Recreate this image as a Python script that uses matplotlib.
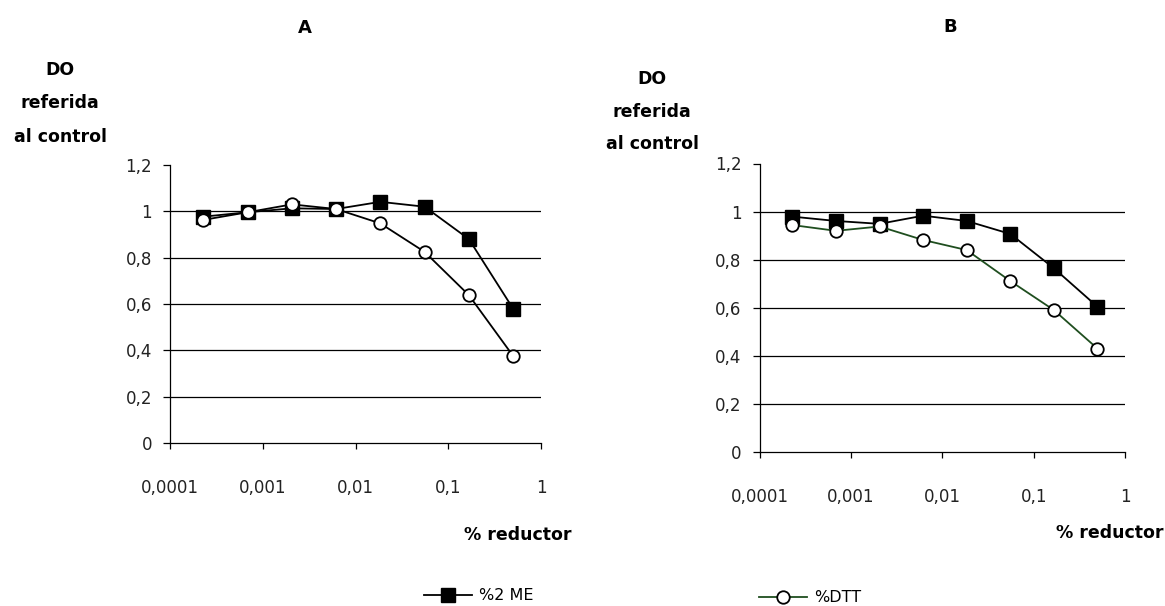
#!/usr/bin/env python

import matplotlib
matplotlib.use('Agg')
import matplotlib.pyplot as plt

# Reducer concentration (%), three-fold dilutions
conc = [0.000229, 0.000686, 0.00206, 0.00617, 0.0185, 0.0556, 0.167, 0.5]

# Panel A: OD relative to control
a_me = [0.977, 0.996, 1.013, 1.010, 1.041, 1.020, 0.880, 0.580]
a_dtt = [0.963, 0.996, 1.030, 1.010, 0.948, 0.825, 0.638, 0.376]

# Panel B: OD relative to control
b_me = [0.979, 0.961, 0.949, 0.983, 0.961, 0.907, 0.764, 0.604]
b_dtt = [0.944, 0.920, 0.938, 0.882, 0.840, 0.711, 0.590, 0.430]

y_ticks = [0, 0.2, 0.4, 0.6, 0.8, 1.0, 1.2]
y_labels = ['0', '0,2', '0,4', '0,6', '0,8', '1', '1,2']
x_ticks = [0.0001, 0.001, 0.01, 0.1, 1]
x_labels = ['0,0001', '0,001', '0,01', '0,1', '1']

green = '#1f4e1f'

plt.rcParams['font.family'] = ['DejaVu Sans']

W, H = 1165, 606
fig = plt.figure(figsize=(W / 100, H / 100), dpi=100)


def px(x, y):
    # pixel position -> figure fraction
    return x / W, 1 - y / H


def panel(rect, me, dtt, dtt_color):
    ax = fig.add_axes(rect)
    ax.set_xscale('log')
    ax.set_xlim(1e-4, 1)
    ax.set_ylim(0, 1.2)
    for g in y_ticks[1:-1]:
        ax.axhline(g, color='black', lw=0.9, zorder=1)
    l1, = ax.plot(conc, me, color='black', lw=1.3, marker='s', ms=10,
                  mfc='black', mec='black', zorder=3, clip_on=False)
    l2, = ax.plot(conc, dtt, color=dtt_color, lw=1.3, marker='o', ms=9,
                  mfc='white', mec='black', mew=1.3, zorder=4, clip_on=False)
    ax.set_yticks(y_ticks)
    ax.set_yticklabels(y_labels)
    ax.set_xticks(x_ticks)
    ax.set_xticklabels(x_labels)
    ax.minorticks_off()
    ax.tick_params(axis='y', length=5, width=0.9, pad=8, labelsize=12,
                   labelcolor='#222222')
    ax.tick_params(axis='x', length=4, width=0.9, pad=22, labelsize=12,
                   labelcolor='#222222')
    for s in ['top', 'right']:
        ax.spines[s].set_visible(False)
    for s in ['left', 'bottom']:
        ax.spines[s].set_linewidth(0.9)
    return ax, l1, l2


axA, meA, dttA = panel([170 / W, 1 - 443 / H, 371 / W, 278 / H],
                       a_me, a_dtt, 'black')
axB, meB, dttB = panel([759.5 / W, 1 - 452 / H, 365.5 / W, 288.5 / H],
                       b_me, b_dtt, green)

# panel titles
fig.text(*px(305, 28), 'A', ha='center', va='center', fontsize=13,
         fontweight='bold')
fig.text(*px(950, 27), 'B', ha='center', va='center', fontsize=13,
         fontweight='bold')

# y-axis labels, one line each
for cx, ys in [(60, [70, 103, 137]), (652, [79, 112, 144])]:
    for yy, t in zip(ys, ['DO', 'referida', 'al control']):
        fig.text(*px(cx, yy), t, ha='center', va='center', fontsize=12.5,
                 fontweight='bold')

# x-axis labels
fig.text(*px(572, 535), '% reductor', ha='right', va='center',
         fontsize=12.5, fontweight='bold')
fig.text(*px(1163, 533), '% reductor', ha='right', va='center',
         fontsize=12.5, fontweight='bold')

# legend entries under each panel
fig.legend(handles=[meA], labels=['%2 ME'], loc='center left',
           bbox_to_anchor=px(418, 596), frameon=False, fontsize=11.5,
           handlelength=3.0, handletextpad=0.4, borderaxespad=0)
fig.legend(handles=[dttB], labels=['%DTT'], loc='center left',
           bbox_to_anchor=px(753, 598), frameon=False, fontsize=11.5,
           handlelength=3.0, handletextpad=0.4, borderaxespad=0)

fig.savefig('out.png', dpi=100)
